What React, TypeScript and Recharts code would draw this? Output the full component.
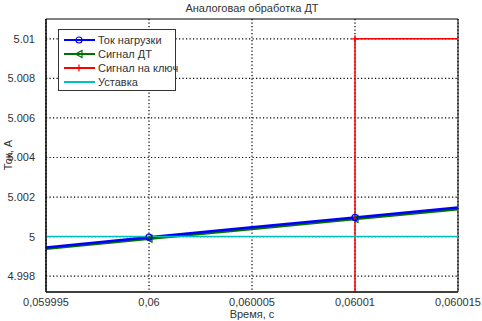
import React from "react";
import {
  LineChart,
  Line,
  XAxis,
  YAxis,
  ReferenceArea,
  CartesianGrid,
} from "recharts";

const timeTicks = [0.059995, 0.06, 0.060005, 0.06001, 0.060015];
const timeTickLabels = ["0,059995", "0,06", "0,060005", "0,06001", "0,060015"];
const currentTicks = [4.998, 5, 5.002, 5.004, 5.006, 5.008, 5.01];
const currentTickLabels = ["4.998", "5", "5.002", "5.004", "5.006", "5.008", "5.01"];

const loadTime = [0.059995, 0.06, 0.060005, 0.06001, 0.060015];
const loadCurrent = [4.99945, 4.99997, 5.00047, 5.00097, 5.00147];
const dtSignal = [4.99938, 4.99989, 5.00039, 5.00089, 5.00138];
const markerTimes = [0.06, 0.06001];

const keyTime = [0.06001, 0.06001, 0.060015];
const keySignal = [0, 5.01, 5.01];

const setpointTime = [0.059995, 0.060015];
const setpointValue = [5, 5];

const xDomain = [0.059995, 0.060015];
const yDomain = [4.9972, 5.011];

const FONT = "'Liberation Sans', Arial, sans-serif";

const loadData = loadTime.map((t, i) => ({ t, v: loadCurrent[i] }));
const dtData = loadTime.map((t, i) => ({ t, v: dtSignal[i] }));
const keyData = keyTime.map((t, i) => ({ t, v: keySignal[i] }));
const setData = setpointTime.map((t, i) => ({ t, v: setpointValue[i] }));
const hGridData = currentTicks.map((v) => [
  { t: xDomain[0], v },
  { t: xDomain[1], v },
]);

const isMarker = (t: number) => markerTimes.some((m) => Math.abs(m - t) < 1e-10);

const CircleDot = (p: any) =>
  p.payload && isMarker(p.payload.t) ? (
    <circle key={p.index} cx={p.cx} cy={p.cy} r={3} fill="none" stroke="#0000ff" strokeWidth={1.2} />
  ) : (
    <g key={p.index} />
  );

const TriDot = (p: any) =>
  p.payload && isMarker(p.payload.t) ? (
    <path
      key={p.index}
      d={`M${p.cx - 3.5},${p.cy} L${p.cx + 3},${p.cy - 3.5} L${p.cx + 3},${p.cy + 3.5} Z`}
      fill="none"
      stroke="#007000"
      strokeWidth={1.2}
    />
  ) : (
    <g key={p.index} />
  );

const PlusDot = (p: any) =>
  p.index === 1 ? (
    <path
      key={p.index}
      d={`M${p.cx - 3.5},${p.cy} H${p.cx + 3.5} M${p.cx},${p.cy - 3.5} V${p.cy + 3.5}`}
      stroke="#ff0000"
      strokeWidth={1.2}
    />
  ) : (
    <g key={p.index} />
  );

const legendItems = [
  { name: "Ток нагрузки", color: "#0000ff", marker: "circle" },
  { name: "Сигнал ДТ", color: "#007000", marker: "tri" },
  { name: "Сигнал на ключ", color: "#ff0000", marker: "plus" },
  { name: "Уставка", color: "#00bfbf", marker: "none" },
];

const LegendBox = () => (
  <div
    style={{
      position: "absolute",
      left: 58,
      top: 29,
      border: "1px solid #333",
      background: "#fff",
      width: 118,
      height: 62,
      boxSizing: "border-box",
      fontFamily: FONT,
      fontSize: 11,
      color: "#333",
      paddingTop: 3,
    }}
  >
    {legendItems.map((it) => (
      <div key={it.name} style={{ display: "flex", alignItems: "center", height: 14 }}>
        <svg width={39} height={12} style={{ flex: "none" }}>
          <line x1={5} y1={6} x2={36} y2={6} stroke={it.color} strokeWidth={2} />
          {it.marker === "circle" && <circle cx={20} cy={6} r={3} fill="none" stroke={it.color} strokeWidth={1.2} />}
          {it.marker === "tri" && (
            <path d="M16.5,6 L23,2.5 L23,9.5 Z" fill="none" stroke={it.color} strokeWidth={1.2} />
          )}
          {it.marker === "plus" && <path d="M16.5,6 H23.5 M20,2.5 V9.5" stroke={it.color} strokeWidth={1.2} />}
        </svg>
        <span style={{ whiteSpace: "nowrap" }}>{it.name}</span>
      </div>
    ))}
  </div>
);

export default function App() {
  return (
    <div
      style={{
        position: "absolute",
        left: 0,
        top: 0,
        width: 482,
        height: 321,
        background: "#fff",
        fontFamily: FONT,
      }}
    >
      <LineChart width={482} height={321} margin={{ top: 19, right: 24, bottom: 0, left: 0 }}>
        <CartesianGrid
          stroke="#000"
          strokeWidth={1.2}
          strokeDasharray="1.2 2.3"
          horizontal={false}
          verticalValues={timeTicks}
        />
        <XAxis
          dataKey="t"
          type="number"
          domain={xDomain}
          ticks={timeTicks}
          allowDataOverflow
          height={29}
          tickFormatter={(v: number) => timeTickLabels[timeTicks.findIndex((x) => Math.abs(x - v) < 1e-10)] ?? ""}
          tick={{ fill: "#333", fontSize: 11, fontFamily: FONT }}
          tickLine={false}
          axisLine={{ stroke: "#000" }}
          tickMargin={0}
        />
        <YAxis
          type="number"
          domain={yDomain}
          ticks={currentTicks}
          allowDataOverflow
          width={46}
          tickFormatter={(v: number) =>
            currentTickLabels[currentTicks.findIndex((x) => Math.abs(x - v) < 1e-10)] ?? ""
          }
          tick={{ fill: "#333", fontSize: 11, fontFamily: FONT }}
          tickLine={false}
          tickMargin={5}
          axisLine={{ stroke: "#000" }}
        />
        {hGridData.map((d, i) => (
          <Line
            key={"grid" + i}
            data={d}
            dataKey="v"
            stroke="#000"
            strokeWidth={1.2}
            strokeDasharray="1.2 2.3"
            dot={false}
            activeDot={false}
            isAnimationActive={false}
            legendType="none"
          />
        ))}
        <Line
          data={dtData}
          dataKey="v"
          stroke="#007000"
          strokeWidth={2.5}
          dot={TriDot}
          isAnimationActive={false}
          activeDot={false}
        />
        <Line
          data={loadData}
          dataKey="v"
          stroke="#0000ff"
          strokeWidth={2.5}
          dot={CircleDot}
          isAnimationActive={false}
          activeDot={false}
        />
        <Line
          data={keyData}
          dataKey="v"
          stroke="#ff0000"
          strokeWidth={1.5}
          dot={PlusDot}
          isAnimationActive={false}
          activeDot={false}
        />
        <Line
          data={setData}
          dataKey="v"
          stroke="#00bfbf"
          strokeWidth={1.5}
          dot={false}
          isAnimationActive={false}
          activeDot={false}
        />
        <ReferenceArea
          x1={xDomain[0]}
          x2={xDomain[1]}
          y1={yDomain[0]}
          y2={yDomain[1]}
          fill="none"
          stroke="#000"
          strokeWidth={1}
          ifOverflow="visible"
        />
      </LineChart>
      <div
        style={{
          position: "absolute",
          top: 2,
          left: 46,
          width: 412,
          textAlign: "center",
          fontSize: 11,
          color: "#333",
        }}
      >
        Аналоговая обработка ДТ
      </div>
      <div
        style={{
          position: "absolute",
          left: 8,
          top: 155,
          transform: "translate(-50%, -50%) rotate(-90deg)",
          fontSize: 11,
          color: "#333",
          whiteSpace: "nowrap",
        }}
      >
        Ток, А
      </div>
      <div
        style={{
          position: "absolute",
          top: 308,
          left: 46,
          width: 412,
          textAlign: "center",
          fontSize: 11,
          lineHeight: "13px",
          color: "#333",
        }}
      >
        Время, с
      </div>
      <LegendBox />
    </div>
  );
}
